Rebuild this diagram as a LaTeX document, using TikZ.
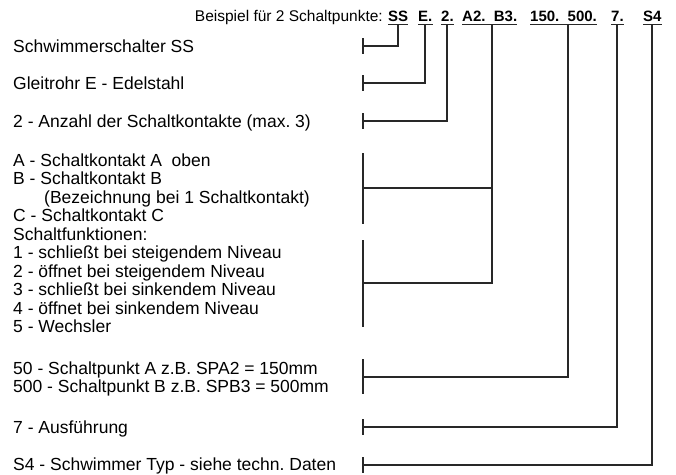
\documentclass[tikz,border=0pt]{standalone}
\usepackage{fontspec}
\setmainfont{Liberation Sans}
\usepackage{xcolor}
\definecolor{linegray}{RGB}{40,40,40}
\frenchspacing

\begin{document}
\begin{tikzpicture}[
    x=1pt, y=-1pt,
    entry/.style={inner sep=0pt, anchor=base west, font=\fontsize{17.5}{18.5}\selectfont},
    block/.style={entry, anchor=north west, align=left},
    code/.style={inner sep=0pt, anchor=base west, font=\fontsize{15}{18}\selectfont\bfseries},
    conn/.style={draw=linegray, line width=2pt},
    uline/.style={draw=linegray, line width=1.8pt}
]
    \useasboundingbox (0,0) rectangle (676,474);

    % ---- Bestellschluessel ----
    \node[inner sep=0pt, anchor=base east, font=\fontsize{15.5}{18}\selectfont] (head) at (383,21) {Beispiel für 2 Schaltpunkte:};
    \node[code] (cSS) at (388,21) {SS};
    \node[code] (cE) at (418,21) {E.};
    \node[code] (c2) at (441,21) {2.};
    \node[code] (cAB) at (462,21) {A2.~~B3.};
    \node[code] (cPkt) at (530,21) {150.~~500.};
    \node[code] (c7) at (611,21) {7.};
    \node[code] (cS4) at (643,21) {S4};
    \draw[uline] ([yshift=-3.5pt]cSS.base west) -- ([yshift=-3.5pt]cSS.base east);
    \draw[uline] ([yshift=-3.5pt]cE.base west) -- ([yshift=-3.5pt]cE.base east);
    \draw[uline] ([yshift=-3.5pt]c2.base west) -- ([yshift=-3.5pt]c2.base east);
    \draw[uline] ([yshift=-3.5pt]cAB.base west) -- ([yshift=-3.5pt]cAB.base east);
    \draw[uline] ([yshift=-3.5pt]cPkt.base west) -- ([yshift=-3.5pt]cPkt.base east);
    \draw[uline] ([yshift=-3.5pt]c7.base west) -- ([yshift=-3.5pt]c7.base east);
    \draw[uline] ([yshift=-3.5pt]cS4.base west) -- ([yshift=-3.5pt]cS4.base east);

    % ---- Erklaerungen ----
    \node[entry] (tSchw) at (13,52.3) {Schwimmerschalter SS};
    \node[entry] (tGleit) at (13,89.3) {Gleitrohr E - Edelstahl};
    \node[entry] (tAnz) at (13,127.3) {2 - Anzahl der Schaltkontakte (max. 3)};
    \node[block] (tKont) at (13,153.6) {A - Schaltkontakt A~~oben\\B - Schaltkontakt B\\\hspace*{31pt}(Bezeichnung bei 1 Schaltkontakt)\\C - Schaltkontakt C};
    \node[block] (tFunk) at (13,227.6) {Schaltfunktionen:\\1 - schließt bei steigendem Niveau\\2 - öffnet bei steigendem Niveau\\3 - schließt bei sinkendem Niveau\\4 - öffnet bei sinkendem Niveau\\5 - Wechsler};
    \node[block] (tPkt) at (13,361.6) {50 - Schaltpunkt A z.B. SPA2 = 150mm\\500 - Schaltpunkt B z.B. SPB3 = 500mm};
    \node[entry] (tAusf) at (13,433.3) {7 - Ausführung};
    \node[entry] (tTyp) at (13,470.3) {S4 - Schwimmer Typ - siehe techn. Daten};

    % ---- Klammern ----
    \coordinate (kSS) at (362.5,46);
    \coordinate (kE) at (362.5,83);
    \coordinate (k2) at (362.5,121);
    \coordinate (kKont) at (362.5,188);
    \coordinate (kFunk) at (362.5,283);
    \coordinate (kPkt) at (362.5,377);
    \coordinate (k7) at (362.5,427);
    \coordinate (kS4) at (362.5,465);
    \draw[conn] ([yshift=8pt]kSS) -- ([yshift=-8pt]kSS);
    \draw[conn] ([yshift=8pt]kE) -- ([yshift=-8pt]kE);
    \draw[conn] ([yshift=8pt]k2) -- ([yshift=-8pt]k2);
    \draw[conn] ([yshift=35pt]kKont) -- ([yshift=-36pt]kKont);
    \draw[conn] ([yshift=43pt]kFunk) -- ([yshift=-44pt]kFunk);
    \draw[conn] ([yshift=18pt]kPkt) -- ([yshift=-17pt]kPkt);
    \draw[conn] ([yshift=8pt]k7) -- ([yshift=-8pt]k7);
    \draw[conn] ([yshift=8pt]kS4) -- ([yshift=-8pt]kS4);

    \draw[conn] ([yshift=-3.5pt]cSS.base) |- (kSS);
    \draw[conn] ([yshift=-3.5pt]cE.base) |- (kE);
    \draw[conn] ([yshift=-3.5pt]c2.base) |- (k2);
    \draw[conn] ([xshift=2.5pt,yshift=-3.5pt]cAB.base) |- (kKont);
    \draw[conn] ([xshift=2.5pt,yshift=-3.5pt]cAB.base) |- (kFunk);
    \draw[conn] ([xshift=4pt,yshift=-3.5pt]cPkt.base) |- (kPkt);
    \draw[conn] ([yshift=-3.5pt]c7.base) |- (k7);
    \draw[conn] ([yshift=-3.5pt]cS4.base) |- (kS4);
\end{tikzpicture}
\end{document}
